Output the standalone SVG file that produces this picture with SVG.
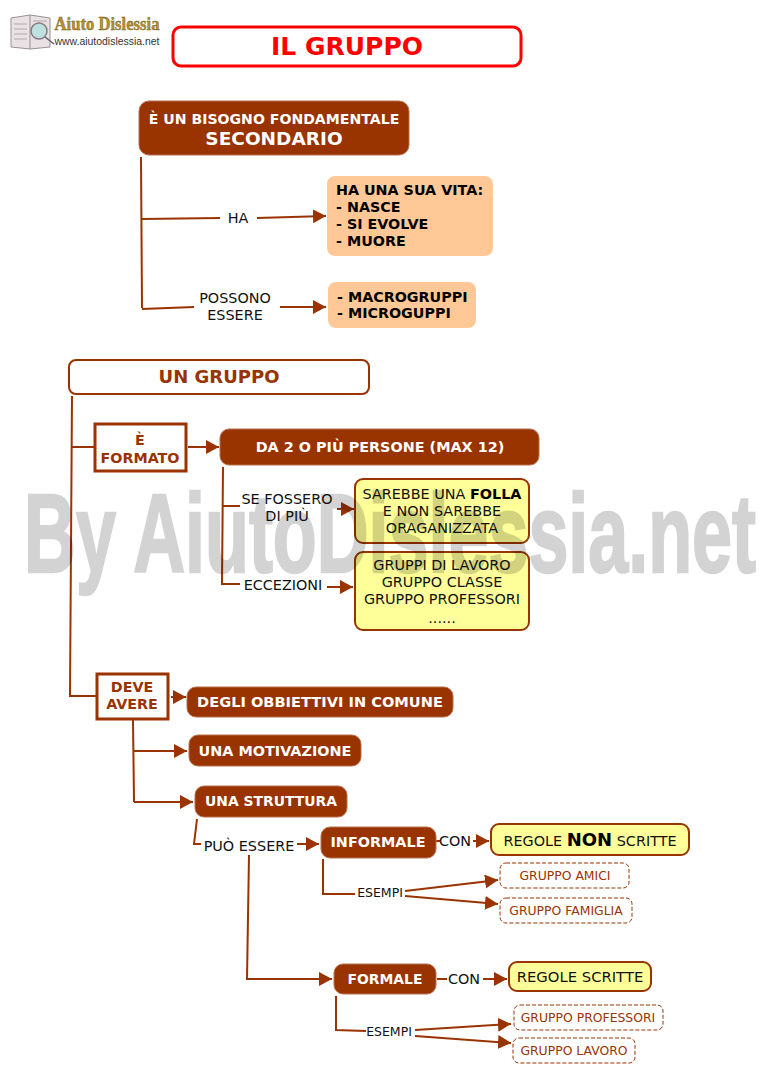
<svg xmlns="http://www.w3.org/2000/svg" width="778" height="1088" viewBox="0 0 778 1088">
<style>
text{font-family:"DejaVu Sans",Verdana,sans-serif;text-anchor:middle}
.b{font-weight:bold}
.w{fill:#fff;font-weight:bold;font-size:14.4px}
.k{fill:#111;font-size:14.4px}
.s{fill:#111;font-size:12.5px}
.bk{fill:#000;font-weight:bold;font-size:14.3px;text-anchor:start}
.br{fill:#993300;font-weight:bold;font-size:14.3px}
.d{fill:#993300;font-size:12.4px}
.fill{fill:#993300;stroke:#b8714d;stroke-width:1}
.peach{fill:#FFC896}
.yel{fill:#FFFF99;stroke:#993300;stroke-width:2}
.sq{fill:#fff;stroke:#993300;stroke-width:3}
.dash{fill:#fff;stroke:#993300;stroke-width:1;stroke-dasharray:4 2}
#connectors path{fill:none;stroke:#993300;stroke-width:2}
.a{marker-end:url(#arr)}
</style>
<defs>
<marker id="arr" markerUnits="userSpaceOnUse" markerWidth="14" markerHeight="15" refX="13" refY="7" orient="auto"><path d="M0 0L13 7L0 14Z" fill="#993300"/></marker>
</defs>
<rect width="778" height="1088" fill="#fff"/>
<g id="logo">
<path d="M11 18L30 15L50 18L50 47L30 49L11 47Z" fill="#e8e2e4" stroke="#9a8f96"/>
<path d="M30 15V49" stroke="#9a8f96"/>
<path d="M14 24H27M14 29H27M14 34H27M14 39H27M33 21H47" stroke="#b5a8ae"/>
<circle cx="39" cy="31" r="8" fill="#bfe0e0" stroke="#8a7a80" stroke-width="1.500"/>
<path d="M45 37L54 44" stroke="#6a5a70" stroke-width="1.500"/>
<text x="107" y="30" style="font-family:'Liberation Serif',serif;font-weight:bold;font-size:18px;fill:#b8902f;stroke:#6a5520;stroke-width:.4" textLength="105" lengthAdjust="spacingAndGlyphs">Aiuto Dislessia</text>
<text x="107" y="45" style="font-family:'Liberation Sans',sans-serif;font-size:10.500px;fill:#333" textLength="105" lengthAdjust="spacingAndGlyphs">www.aiutodislessia.net</text>
</g>
<g id="connectors">
<path d="M141 157L142 308"/>
<path d="M142 219L220 218"/>
<path class="a" d="M257 218L326 216"/>
<path d="M142 309L194 307"/>
<path class="a" d="M280 307L326 307"/>
<path d="M72 396L70 696L96 696"/>
<path d="M71 447L94 447"/>
<path class="a" d="M188 447L219 447"/>
<path d="M223 467L222 584L240 584"/>
<path d="M222 506L240 506"/>
<path class="a" d="M337 509L354 509"/>
<path class="a" d="M327 587L353 587"/>
<path class="a" d="M171 697L186 697"/>
<path d="M133 720L134 802"/>
<path class="a" d="M134 751L187 751"/>
<path class="a" d="M134 802L193 802"/>
<path d="M197 819L194 844L201 844"/>
<path class="a" d="M297 844L319 844"/>
<path d="M436 841L440 841"/>
<path class="a" d="M473 841L489 841"/>
<path d="M323 859L323 894L355 894"/>
<path class="a" d="M405 891L498 880"/>
<path class="a" d="M405 896L498 904"/>
<path class="a" d="M249 855L247 979L332 979"/>
<path d="M437 979L447 979"/>
<path class="a" d="M483 979L507 979"/>
<path d="M336 996L336 1030L366 1031"/>
<path class="a" d="M415 1030L511 1024"/>
<path class="a" d="M415 1036L511 1043"/>
</g>
<g id="n-title"><rect x="173" y="27" width="348" height="39" rx="8" fill="#fff" stroke="#f00" stroke-width="3"/><text class="b" x="347" y="55" font-size="25" fill="#f00">IL GRUPPO</text></g>
<g id="n-bisogno"><rect class="fill" x="139" y="101" width="270" height="54" rx="10"/><text class="w" x="274" y="124" style="font-size:14.1px">È UN BISOGNO FONDAMENTALE</text><text class="w" x="274" y="145" style="font-size:18.5px">SECONDARIO</text></g>
<g id="l-ha"><text class="k" x="238" y="223">HA</text></g>
<g id="n-vita"><rect class="peach" x="327" y="176" width="166" height="80" rx="8"/><text class="bk" x="336" y="195">HA UNA SUA VITA:</text><text class="bk" x="336" y="212">- NASCE</text><text class="bk" x="336" y="229">- SI EVOLVE</text><text class="bk" x="336" y="246">- MUORE</text></g>
<g id="l-possono"><text class="k" x="235" y="303">POSSONO</text><text class="k" x="235" y="320">ESSERE</text></g>
<g id="n-macro"><rect class="peach" x="328" y="282" width="148" height="46" rx="8"/><text class="bk" x="337" y="302">- MACROGRUPPI</text><text class="bk" x="337" y="318">- MICROGUPPI</text></g>
<g id="n-ungruppo"><rect x="69" y="360" width="300" height="34" rx="7" fill="#fff" stroke="#993300" stroke-width="2"/><text class="b" x="219" y="383" font-size="18" fill="#993300">UN GRUPPO</text></g>
<g id="n-formato"><rect class="sq" x="95" y="424" width="91" height="47"/><text class="br" x="140" y="445">È</text><text class="br" x="140" y="463">FORMATO</text></g>
<g id="n-da2"><rect class="fill" x="220" y="429" width="319" height="36" rx="9"/><text class="w" x="380" y="452">DA 2 O PIÙ PERSONE (MAX 12)</text></g>
<g id="l-sefossero"><text class="k" x="287" y="504">SE FOSSERO</text><text class="k" x="287" y="521">DI PIÙ</text></g>
<g id="n-folla"><rect class="yel" x="355" y="479" width="174" height="64" rx="8"/><text class="k" x="442" y="499">SAREBBE UNA <tspan class="b" fill="#000">FOLLA</tspan></text><text class="k" x="442" y="516">E NON SAREBBE</text><text class="k" x="442" y="533">ORAGANIZZATA</text></g>
<g id="l-eccezioni"><text class="k" x="283" y="590">ECCEZIONI</text></g>
<g id="n-eccezioni"><rect class="yel" x="355" y="552" width="174" height="78" rx="8"/><text class="k" x="442" y="570">GRUPPI DI LAVORO</text><text class="k" x="442" y="587">GRUPPO CLASSE</text><text class="k" x="442" y="604">GRUPPO PROFESSORI</text><text class="k" x="442" y="623">......</text></g>
<g id="n-deve"><rect class="sq" x="97" y="674" width="71" height="45"/><text class="br" x="132" y="692">DEVE</text><text class="br" x="132" y="709">AVERE</text></g>
<g id="n-obbiettivi"><rect class="fill" x="187" y="687" width="266" height="30" rx="9"/><text class="w" x="320" y="707" style="font-size:14.6px">DEGLI OBBIETTIVI IN COMUNE</text></g>
<g id="n-motivazione"><rect class="fill" x="189" y="735" width="172" height="31" rx="9"/><text class="w" x="275" y="756">UNA MOTIVAZIONE</text></g>
<g id="n-struttura"><rect class="fill" x="195" y="786" width="152" height="31" rx="9"/><text class="w" x="271" y="806" style="font-size:13.9px">UNA STRUTTURA</text></g>
<g id="l-puo"><text class="k" x="249" y="851">PUÒ ESSERE</text></g>
<g id="n-informale"><rect class="fill" x="321" y="827" width="115" height="31" rx="9"/><text class="w" x="378" y="847">INFORMALE</text></g>
<g id="l-con1"><text class="k" x="455" y="846">CON</text></g>
<g id="n-nonscritte"><rect class="yel" x="491" y="824" width="198" height="31" rx="8"/><text class="k" x="590" y="846">REGOLE <tspan class="b" fill="#000" font-size="18">NON</tspan>  SCRITTE</text></g>
<g id="l-esempi1"><text class="s" x="380" y="897">ESEMPI</text></g>
<g id="n-amici"><rect class="dash" x="500" y="863" width="129" height="25" rx="6"/><text class="d" x="565" y="880">GRUPPO AMICI</text></g>
<g id="n-famiglia"><rect class="dash" x="500" y="898" width="132" height="25" rx="6"/><text class="d" x="566" y="915">GRUPPO FAMIGLIA</text></g>
<g id="n-formale"><rect class="fill" x="334" y="964" width="102" height="30" rx="9"/><text class="w" x="385" y="984" style="font-size:13.9px">FORMALE</text></g>
<g id="l-con2"><text class="k" x="464" y="984">CON</text></g>
<g id="n-scritte"><rect class="yel" x="509" y="962" width="142" height="29" rx="8"/><text class="k" x="580" y="982" style="font-size:14.8px">REGOLE SCRITTE</text></g>
<g id="l-esempi2"><text class="s" x="389" y="1036">ESEMPI</text></g>
<g id="n-professori"><rect class="dash" x="514" y="1005" width="149" height="25" rx="6"/><text class="d" x="588" y="1022">GRUPPO PROFESSORI</text></g>
<g id="n-lavoro"><rect class="dash" x="513" y="1038" width="122" height="25" rx="6"/><text class="d" x="574" y="1055">GRUPPO LAVORO</text></g>
<text id="watermark" x="390" y="572" opacity=".17" style="font-family:'Liberation Sans',sans-serif;font-weight:bold;font-size:112px;fill:#000;stroke:#000;stroke-width:2.500" textLength="732" lengthAdjust="spacingAndGlyphs">By AiutoDislessia.net</text>
</svg>
